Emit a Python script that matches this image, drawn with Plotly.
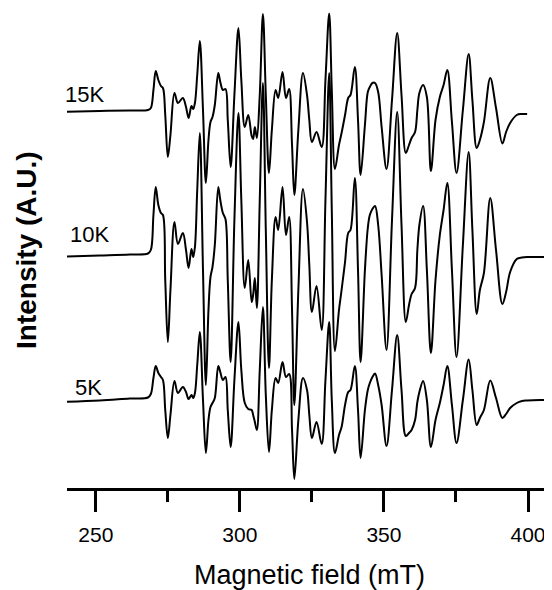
import plotly.graph_objects as go

# Magnetic field grid (mT), shared by all spectra
FIELD = [240.0, 251.4, 261.8, 268.1, 269.1, 270.0, 270.8, 271.7, 272.6, 273.3,
         274.1, 275.0, 275.9, 277.3, 278.5, 280.2, 281.3, 282.2, 283.2, 283.8,
         284.4, 285.2, 286.1, 287.2, 288.2, 289.1, 289.8, 290.5, 291.3, 292.5,
         293.2, 294.1, 295.0, 295.8, 296.8, 298.1, 299.5, 300.5, 301.7, 302.9,
         304.1, 304.6, 305.2, 305.9, 306.9, 308.0, 309.0, 310.1, 311.1, 312.4,
         313.3, 314.8, 316.0, 317.1, 318.1, 318.9, 320.3, 321.9, 323.3, 324.1,
         325.0, 326.6, 328.4, 329.7, 331.0, 331.9, 333.0, 334.4, 335.3, 336.5,
         337.6, 338.4, 339.9, 341.0, 341.9, 343.4, 344.4, 345.1, 346.0, 346.9,
         348.0, 349.2, 350.9, 352.8, 354.6, 356.1, 357.6, 358.7, 359.6, 360.8,
         361.6, 362.3, 363.6, 364.9, 366.3, 367.9, 369.4, 370.7, 372.0, 373.6,
         375.2, 377.4, 379.4, 380.7, 382.2, 383.3, 384.7, 386.9, 388.9, 391.1,
         392.4, 393.8, 396.1, 397.9, 399.7, 404.2, 408.3]

# Derivative EPR intensities (A.U.)
I_15K = [-0.7, 0, 0.5, 1, 3, 21, 40, 31, 25, 23,
         -4, -46, -24, 18, 8, 13, 4, -7, 5, 2,
         8, 36, 70, 1, -72, -29, -11, -6, 6, 38,
         29, 21, 22, -9, -56, 16, 83, 31, -16, -4,
         -25, -28, -16, -27, 16, 97, 16, -62, -19, 21,
         13, 39, 13, 22, -34, -84, -19, 38, 16, -9,
         -31, -21, -36, 31, 97.5, 21, -58, -34, -22, -4,
         13, 16, 44, -9, -64, -14, 19, 24, 28, 28,
         19, -16, -58, 11, 78, 16, -42, -34, -27, -21,
         1, 18, 26, 14, -60, -9, 14, 26, 41, -11,
         -62, 1, 57, 11, -37, -29, -11, 33, 3, -32.5,
         -21, -12, -4, -3, -3, None, None]

I_10K = [-0.5, 0.5, 1.5, 2.5, 6, 41, 69, 51, 43, 41,
         -24, -86, -34, 34, 12, 23, 6, -12, 7, -1,
         9, 66, 123, -14, -129, -54, -21, -11, 11, 69,
         56, 43, 37, -24, -106, 36, 143, 56, -32, -4,
         -46, -39, -22, -52, 56, 173, 26, -112, -24, 39,
         26, 69, 21, 39, -54, -149, -34, 67, 34, -9,
         -56, -30, -74, 56, 183, 46, -95, -54, -34, -6,
         23, 26, 78, -14, -106, -14, 28, 41, 47, 50,
         31, -19, -94, 36, 144, 31, -66, -49, -38, -32,
         6, 31, 50, -14, -97, -24, 21, 46, 73, -14,
         -101, 11, 104, 26, -58, -34, -17, 58, 6, -48,
         -36, -16, -3, -1.5, -1, -1, -1.3]

I_5K = [-1.7, -0.5, 1.5, 2.5, 6, 22, 34, 27, 23, 20,
        -10, -38, -15, 19, 7, 13, 8, 1, 5, 2,
        7, 35, 68, 0, -53, -20, -7, -3, 2, 34,
        28, 20, 23, -10, -47, 20, 78, 30, -3, -9,
        -10, -15, -22, -30, 30, 93, 5, -52, -10, 22,
        17, 38, 23, 26, -30, -79, -20, 22, 10, -15,
        -38, -22, -44, 20, 78, 0, -53, -35, -27, -5,
        8, 10, 34, -10, -58, -10, 10, 17, 23, 26.5,
        15, -5, -46, 10, 65, 10, -36, -33, -30, -20,
        -2, 8, 19, 0, -47, -20, -3, 15, 34, -5,
        -43, 0, 40.5, 10, -25, -18, -10, 19.5, 2, -18,
        -14, -8, -3, -1, -0.5, 0, 0]

LABELS = ["15K", "10K", "5K"]
SERIES = [I_15K, I_10K, I_5K]
OFFSETS = [377, 232, 88]          # vertical stacking of the spectra
X_TICKS = [250, 300, 350, 400]

FONT = "Arial, Liberation Sans, sans-serif"

fig = go.Figure()
for name, vals, off in zip(LABELS, SERIES, OFFSETS):
    fig.add_trace(go.Scatter(
        x=FIELD,
        y=[None if v is None else v + off for v in vals],
        mode="lines", name=name,
        line=dict(color="black", width=2, shape="spline", smoothing=1.0),
        connectgaps=False, showlegend=False, hoverinfo="skip",
    ))

# label placement: (x shift from plot's left edge in px, y in data units)
label_pos = [(-4, 394), (1, 254), (5.5, 101)]
for txt, (sx, ly) in zip(LABELS, label_pos):
    fig.add_annotation(x=0, y=ly, xref="paper", yref="y", xshift=sx, text=txt,
                       showarrow=False, xanchor="left", yanchor="middle",
                       font=dict(family=FONT, size=22, color="black"))

fig.add_annotation(x=0, y=238, xref="paper", yref="y", xshift=-41,
                   text="<b>Intensity (A.U.)</b>", textangle=-90, showarrow=False,
                   xanchor="center", yanchor="middle",
                   font=dict(family=FONT, size=28, color="black"))

fig.update_layout(
    width=544, height=582,
    margin=dict(l=59, r=0, t=0, b=102),
    paper_bgcolor="white", plot_bgcolor="white",
    xaxis=dict(range=[240, 408.33], showline=True, linecolor="black", linewidth=3,
               ticks="outside", ticklen=21, tickwidth=3, tickcolor="black",
               tickvals=X_TICKS, showgrid=False, zeroline=False,
               ticklabelstandoff=5,
               tickfont=dict(family=FONT, size=21, color="black"),
               minor=dict(ticks="outside", ticklen=11, tickwidth=3, tickcolor="black",
                          tick0=275, dtick=50, showgrid=False),
               title=dict(text="Magnetic field (mT)", standoff=23,
                          font=dict(family=FONT, size=27, color="black"))),
    yaxis=dict(range=[0, 480], showline=False, showticklabels=False, ticks="",
               showgrid=False, zeroline=False),
)

fig.write_html("out.html")
